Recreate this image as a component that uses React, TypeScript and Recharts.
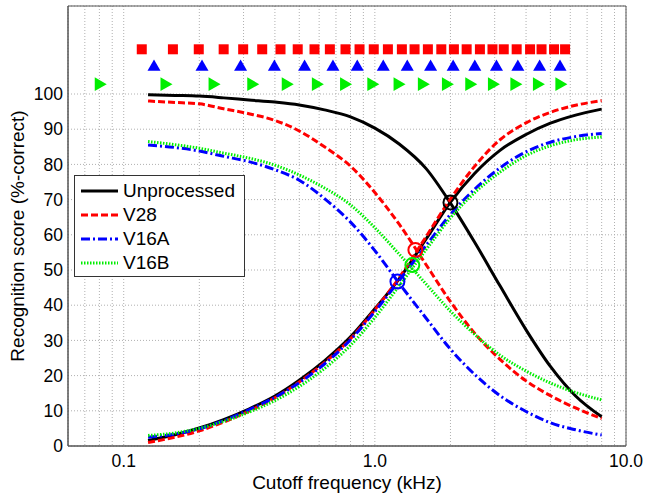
import React from "react";
import {
  ComposedChart,
  Line,
  Scatter,
  XAxis,
  YAxis,
  CartesianGrid,
  ReferenceArea,
  Legend,
} from "recharts";

const FONT = "'Liberation Sans', Arial, Helvetica, sans-serif";

// cutoff frequencies (kHz) where the curves were read
const FREQ = [0.125, 0.16, 0.2, 0.25, 0.315, 0.4, 0.5, 0.63, 0.8, 1.0, 1.25, 1.6, 2.0, 2.5, 3.15, 4.0, 5.0, 6.3, 8.0];

// high-pass (falling) and low-pass (rising) recognition scores
const UNPROC_HP = [99.8, 99.6, 99.4, 98.9, 98.3, 97.7, 96.9, 95.5, 93.5, 90.3, 85.8, 78.8, 69, 57.8, 45.5, 33, 22.6, 14.2, 8.3];
const UNPROC_LP = [1.6, 3.2, 5.1, 7.5, 10.5, 14.2, 18.7, 24.2, 31, 39, 47.5, 58.8, 69.3, 77.5, 84, 88.5, 91.7, 94, 95.7];
const V28_HP = [98, 97.6, 97.2, 95.8, 94.4, 92.5, 89.5, 85, 79.5, 72, 63, 51.5, 41, 32, 24.6, 18.5, 14.3, 10.8, 7.8];
const V28_LP = [1, 2.5, 4.3, 6.8, 9.9, 13.7, 18.2, 23.7, 30.5, 38.7, 47.8, 59.5, 70.2, 79.5, 87, 91.8, 94.8, 96.8, 98.1];
const V16A_HP = [85.5, 84.8, 83.8, 82.3, 80.8, 78.5, 75.5, 70.3, 63.6, 55.5, 46.2, 36.3, 27.5, 20.3, 14.3, 9.8, 6.6, 4.6, 3.1];
const V16A_LP = [2.5, 3.4, 4.9, 7.2, 10.3, 13.8, 18, 23.3, 30.2, 38.2, 47, 57, 65.8, 73, 79, 83.6, 86.3, 87.9, 88.8];
const V16B_HP = [86.5, 85.6, 84.6, 83.2, 81.8, 79.8, 77, 73.3, 68.5, 62, 54.5, 46, 38.3, 31.7, 25.8, 21.3, 17.9, 15.2, 13.1];
const V16B_LP = [3, 3.7, 5, 7, 9.6, 12.9, 16.9, 22, 28.6, 36.5, 45.5, 55.8, 64.8, 72, 77.8, 82.5, 85.3, 87, 87.8];

// significance markers above the curves
const V28_MARK_F = [0.118, 0.157, 0.199, 0.25, 0.299, 0.356, 0.421, 0.493, 0.575, 0.662, 0.764, 0.869, 0.99, 1.127, 1.281, 1.439, 1.626, 1.839, 2.064, 2.32, 2.62, 2.94, 3.26, 3.67, 4.15, 4.61, 5.17, 5.72];
const V16A_MARK_F = [0.132, 0.205, 0.292, 0.398, 0.525, 0.681, 0.851, 1.08, 1.346, 1.667, 2.05, 2.5, 3.05, 3.71, 4.53, 5.46];
const V16B_MARK_F = [0.081, 0.148, 0.23, 0.328, 0.45, 0.593, 0.768, 0.986, 1.254, 1.567, 1.954, 2.42, 2.98, 3.66, 4.5, 5.53];
const V28_MARK_Y = 112.7;
const V16A_MARK_Y = 108.2;
const V16B_MARK_Y = 102.8;

// crossover points
const CROSS_F = [2.0, 1.45, 1.23, 1.41];
const CROSS_Y = [69.2, 55.7, 46.7, 51.4];

const X_GRID = [0.07, 0.08, 0.09, 0.1, 0.2, 0.3, 0.4, 0.5, 0.6, 0.7, 0.8, 0.9, 1, 2, 3, 4, 5, 6, 7, 8, 9, 10];
const X_LABELED = [0.1, 1, 10];
const Y_TICKS = [0, 10, 20, 30, 40, 50, 60, 70, 80, 90, 100];

const SERIES = [
  { name: "Unprocessed", color: "#000000", dash: undefined as string | undefined },
  { name: "V28", color: "#ff0000", dash: "7 3" },
  { name: "V16A", color: "#0000ff", dash: "9 3 2 3" },
  { name: "V16B", color: "#00ee00", dash: "1.5 1.5" },
];

const rows = FREQ.map((f, i) => ({
  f,
  uHP: UNPROC_HP[i],
  uLP: UNPROC_LP[i],
  aHP: V28_HP[i],
  aLP: V28_LP[i],
  bHP: V16A_HP[i],
  bLP: V16A_LP[i],
  cHP: V16B_HP[i],
  cLP: V16B_LP[i],
}));

const v28Marks = V28_MARK_F.map((f) => ({ f, y: V28_MARK_Y }));
const v16aMarks = V16A_MARK_F.map((f) => ({ f, y: V16A_MARK_Y }));
const v16bMarks = V16B_MARK_F.map((f) => ({ f, y: V16B_MARK_Y }));

const SquareShape = (p: { cx?: number; cy?: number }) =>
  p.cx == null || p.cy == null ? null : (
    <rect x={p.cx - 5} y={p.cy - 5} width={10} height={10} fill="#ff0000" />
  );

const UpTriangle = (p: { cx?: number; cy?: number }) =>
  p.cx == null || p.cy == null ? null : (
    <polygon
      points={`${p.cx - 6.5},${p.cy + 5.7} ${p.cx + 6.5},${p.cy + 5.7} ${p.cx},${p.cy - 5.7}`}
      fill="#0000ff"
    />
  );

const RightTriangle = (p: { cx?: number; cy?: number }) =>
  p.cx == null || p.cy == null ? null : (
    <polygon
      points={`${p.cx - 6},${p.cy - 6.8} ${p.cx - 6},${p.cy + 6.8} ${p.cx + 6},${p.cy}`}
      fill="#00ee00"
    />
  );

const ringShape = (color: string) => (p: { cx?: number; cy?: number }) =>
  p.cx == null || p.cy == null ? null : (
    <circle cx={p.cx} cy={p.cy} r={7} fill="none" stroke={color} strokeWidth={2} />
  );

const LegendBox = () => (
  <div
    style={{
      width: 171,
      height: 102,
      boxSizing: "border-box",
      border: "1px solid #333",
      background: "#fff",
      paddingTop: 3,
      fontFamily: FONT,
      fontSize: 19,
      color: "#000",
    }}
  >
    {SERIES.map((s) => (
      <div key={s.name} style={{ display: "flex", alignItems: "center", height: 24 }}>
        <svg width={37} height={8} style={{ marginLeft: 6, marginRight: 5 }}>
          <line x1={0} y1={4} x2={37} y2={4} stroke={s.color} strokeWidth={3} strokeDasharray={s.dash} />
        </svg>
        <span style={{ lineHeight: "24px" }}>{s.name}</span>
      </div>
    ))}
  </div>
);

const formatX = (v: number) => (X_LABELED.includes(v) ? v.toFixed(1) : "");

export default function App() {
  const lines: [string, number][] = [
    ["uHP", 0], ["uLP", 0], ["aHP", 1], ["aLP", 1],
    ["bHP", 2], ["bLP", 2], ["cHP", 3], ["cLP", 3],
  ];
  const ringColors = ["#000000", "#ff0000", "#0000ff", "#00ee00"];

  return (
    <div style={{ position: "absolute", left: 0, top: 0, width: 645, height: 496, background: "#fff" }}>
      <ComposedChart
        width={645}
        height={496}
        data={rows}
        margin={{ top: 6, right: 19, bottom: 0, left: 0 }}
      >
        <CartesianGrid stroke="#b0b0b0" strokeDasharray="1 2" />
        <XAxis
          dataKey="f"
          type="number"
          scale="log"
          domain={[0.06, 10]}
          allowDataOverflow
          ticks={X_GRID}
          interval={0}
          tickFormatter={formatX}
          height={50}
          tickLine={false}
          tickSize={0}
          tickMargin={9}
          stroke="#555"
          tick={{ fill: "#000", fontSize: 17.5, fontFamily: FONT }}
          label={{
            value: "Cutoff frequency (kHz)",
            position: "insideBottom",
            offset: 7,
            fill: "#000",
            fontSize: 19,
            fontFamily: FONT,
          }}
        />
        <YAxis
          type="number"
          domain={[0, 125]}
          ticks={Y_TICKS}
          interval={0}
          width={68}
          tickLine={false}
          tickSize={0}
          tickMargin={5}
          stroke="#555"
          tick={{ fill: "#000", fontSize: 17.5, fontFamily: FONT }}
          label={() => (
            <text
              x={17}
              y={236}
              transform="rotate(-90, 17, 236)"
              textAnchor="middle"
              dominantBaseline="central"
              fontSize={19}
              fontFamily={FONT}
              fill="#000"
            >
              Recognition score (%-correct)
            </text>
          )}
        />
        <ReferenceArea x1={0.06} x2={10} y1={0} y2={125} fill="none" stroke="#555" strokeWidth={1} />

        {lines.map(([key, si]) => (
          <Line
            key={key}
            dataKey={key}
            type="monotone"
            stroke={SERIES[si].color}
            strokeWidth={3}
            strokeDasharray={SERIES[si].dash}
            dot={false}
            activeDot={false}
            legendType="none"
            isAnimationActive={false}
          />
        ))}

        <Scatter data={v28Marks} dataKey="y" shape={SquareShape} legendType="none" isAnimationActive={false} />
        <Scatter data={v16aMarks} dataKey="y" shape={UpTriangle} legendType="none" isAnimationActive={false} />
        <Scatter data={v16bMarks} dataKey="y" shape={RightTriangle} legendType="none" isAnimationActive={false} />

        {CROSS_F.map((f, i) => (
          <Scatter
            key={`cross-${i}`}
            data={[{ f, y: CROSS_Y[i] }]}
            dataKey="y"
            shape={ringShape(ringColors[i])}
            legendType="none"
            isAnimationActive={false}
          />
        ))}

        <Legend
          layout="vertical"
          align="center"
          verticalAlign="middle"
          content={() => <LegendBox />}
          wrapperStyle={{ left: 74, top: 175, width: 171, height: 102 }}
        />
      </ComposedChart>
    </div>
  );
}
